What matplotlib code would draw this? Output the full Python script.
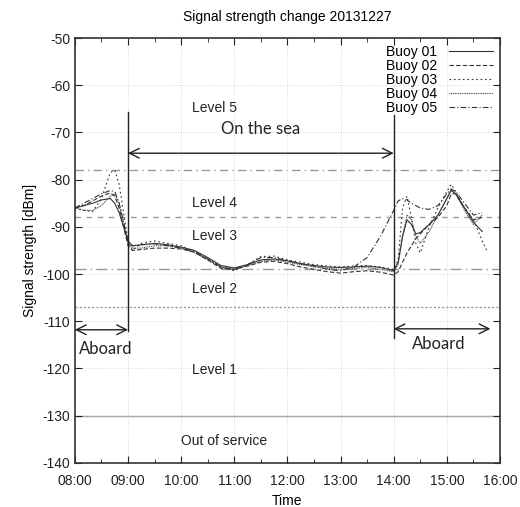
import numpy as np
import matplotlib
matplotlib.use("Agg")
import matplotlib.pyplot as plt
from matplotlib.ticker import MultipleLocator, FuncFormatter

plt.rcParams['font.family'] = ['Liberation Sans', 'DejaVu Sans']
plt.rcParams['axes.unicode_minus'] = False

# measurement times (HH:MM)
times = ["08:00", "08:10", "08:20", "08:30", "08:40", "08:45", "08:50", "08:55",
         "09:00", "09:05", "09:15", "09:30", "09:45", "10:00", "10:15", "10:30",
         "10:45", "11:00", "11:15", "11:30", "11:45", "12:00", "12:15", "12:30",
         "12:45", "13:00", "13:15", "13:30", "13:45", "14:00", "14:05", "14:10",
         "14:15", "14:20", "14:25", "14:30", "14:40", "14:50", "15:00", "15:05",
         "15:10", "15:20", "15:30", "15:40", "15:45"]

nan = np.nan
buoy01 = [-86, -85.5, -85, -84.3, -84, -85, -87, -90,
          -93, -94, -93.8, -93.5, -93.8, -94.3, -95, -96.5,
          -98.2, -98.7, -98, -97, -96.8, -97.2, -97.8, -98.2,
          -98.5, -98.6, -98.5, -98.3, -98.6, -99.3, -97.5, -92,
          -88.5, -89.5, -91.5, -91.2, -89.5, -87.5, -84, -82.3,
          -83, -86, -89, -91, nan]
buoy02 = [-86, -85.5, -84.5, -83.5, -82.8, -83.5, -86, -90,
          -94, -95, -94.8, -94.5, -94.5, -94.7, -95.3, -97,
          -98.8, -99, -98.3, -97.5, -97.3, -97.8, -98.5, -99,
          -99.5, -99.8, -99.5, -99.3, -99.6, -100.2, -99.5, -97.5,
          -95.5, -94, -92.5, -91.5, -89.5, -88, -85.5, -83,
          -83, -86, -88.5, -88, nan]
buoy03 = [-86, -86.5, -86.8, -84, -78.5, -78, -81, -87,
          -93, -95, -93.5, -93, -93.5, -94, -95.3, -96.8,
          -98.5, -99.3, -98, -96.3, -96.2, -97, -97.5, -98,
          -98.3, -98.5, -98.3, -98.2, -98.5, -99, -97, -86,
          -83.5, -88, -93.5, -95.5, -90, -86, -82.5, -81,
          -82.5, -86, -88.5, -93, -95]
buoy04 = [-86, -86.5, -86.5, -85.5, -83.5, -83, -85, -89,
          -93.5, -94.5, -94.5, -94, -94, -94.5, -95.5, -97,
          -98.5, -99, -98.2, -97.3, -97, -97.5, -98, -98.5,
          -98.8, -99, -98.8, -98.6, -99, -99.5, -98, -92,
          -87.5, -88.5, -92, -93.5, -91, -87.5, -84, -82,
          -83, -86.5, -89.5, -87.5, nan]
buoy05 = [-86, -85, -84, -83, -82.3, -82.5, -85, -89,
          -93, -94, -93.8, -93.6, -94, -94.5, -95.2, -96.8,
          -98.5, -99, -98, -96.5, -96.5, -97.2, -97.8, -98.3,
          -99, -99.3, -98.5, -96.5, -92, -86.5, -84.5, -84,
          -84.3, -85, -85.5, -86, -86.3, -85.5, -83, -82,
          -82.5, -85, -87.5, -87, nan]

buoy_names = ["Buoy 01", "Buoy 02", "Buoy 03", "Buoy 04", "Buoy 05"]

# level boundaries [dBm]
level_bounds = [-78, -88, -99, -107, -130]
level_names = ["Level 5", "Level 4", "Level 3", "Level 2", "Level 1", "Out of service"]
level_label_y = [-64.8, -85, -92, -103.2, -120.3, -135.4]


def to_hours(s):
    h, m = s.split(":")
    return int(h) + int(m) / 60.0


t = np.array([to_hours(s) for s in times])

fig = plt.figure(figsize=(5.2, 5.07), dpi=100)
ax = fig.add_axes([0.144, 0.087, 0.8175, 0.838])

line_styles = ['-', (0, (4, 2)), (0, (1.5, 2.5)), (0, (0.8, 0.8)), (0, (5, 2, 1, 2))]
series = [buoy01, buoy02, buoy03, buoy04, buoy05]
for name, vals, ls in zip(buoy_names, series, line_styles):
    ax.plot(t, vals, color='#333333', lw=0.8, ls=ls, label=name)

bound_styles = [(0, (6, 3, 1, 3)), (0, (4, 4)), (0, (8, 3, 1, 3)), (0, (1.5, 1.5)), '-']
for b, ls in zip(level_bounds, bound_styles):
    ax.axhline(b, color='#999999', lw=1.0, ls=ls, zorder=1)

for name, y in zip(level_names, level_label_y):
    x0 = 10.0 if name == "Out of service" else 10.2
    ax.text(x0, y, name, fontsize=10, va='center', ha='left', color='#222222')

# sea / aboard markers
ax.plot([9, 9], [-112, -65.7], color='#222222', lw=1.0)
ax.plot([14, 14], [-113.5, -66.3], color='#222222', lw=1.0)
arrow = dict(arrowstyle='<->,head_length=0.7,head_width=0.35', color='#222222', lw=1.0,
             shrinkA=0, shrinkB=0)
ax.annotate('', xy=(9, -74.4), xytext=(14, -74.4), arrowprops=arrow)
ax.annotate('', xy=(8, -111.8), xytext=(9, -111.8), arrowprops=arrow)
ax.annotate('', xy=(14, -111.6), xytext=(15.82, -111.6), arrowprops=arrow)
ax.text(11.5, -69.2, "On the sea", family=['Lato', 'DejaVu Sans'], fontsize=12,
        ha='center', va='center', color='#222222')
ax.text(8.58, -115.8, "Aboard", family=['Lato', 'DejaVu Sans'], fontsize=12,
        ha='center', va='center', color='#222222')
ax.text(14.85, -114.9, "Aboard", family=['Lato', 'DejaVu Sans'], fontsize=12,
        ha='center', va='center', color='#222222')

ax.set_xlim(8, 16)
ax.set_ylim(-140, -50)
ax.xaxis.set_major_locator(MultipleLocator(1))
ax.xaxis.set_minor_locator(MultipleLocator(0.5))
ax.yaxis.set_major_locator(MultipleLocator(10))
ax.xaxis.set_major_formatter(FuncFormatter(lambda v, p: "%02d:00" % int(round(v))))
ax.tick_params(which='both', direction='in', top=True, right=True, labelsize=10, colors='#222222')
ax.tick_params(which='major', length=5)
ax.tick_params(which='minor', length=3)
ax.tick_params(axis='x', which='major', pad=8)
ax.grid(True, which='major', color='#cccccc', lw=0.6, ls=(0, (1, 2)))
for sp in ax.spines.values():
    sp.set_color('#333333')
    sp.set_linewidth(1.2)

ax.set_title("Signal strength change 20131227", fontsize=10, pad=12)
ax.set_xlabel("Time", fontsize=10, labelpad=4)
ax.set_ylabel("Signal strength [dBm]", fontsize=10, labelpad=4)

ax.legend(loc='upper right', frameon=False, markerfirst=False, fontsize=10,
          labelspacing=0.0, handlelength=3.2, handletextpad=0.8, borderaxespad=0.3,
          borderpad=0.2)

fig.savefig("out.png", dpi=100)
